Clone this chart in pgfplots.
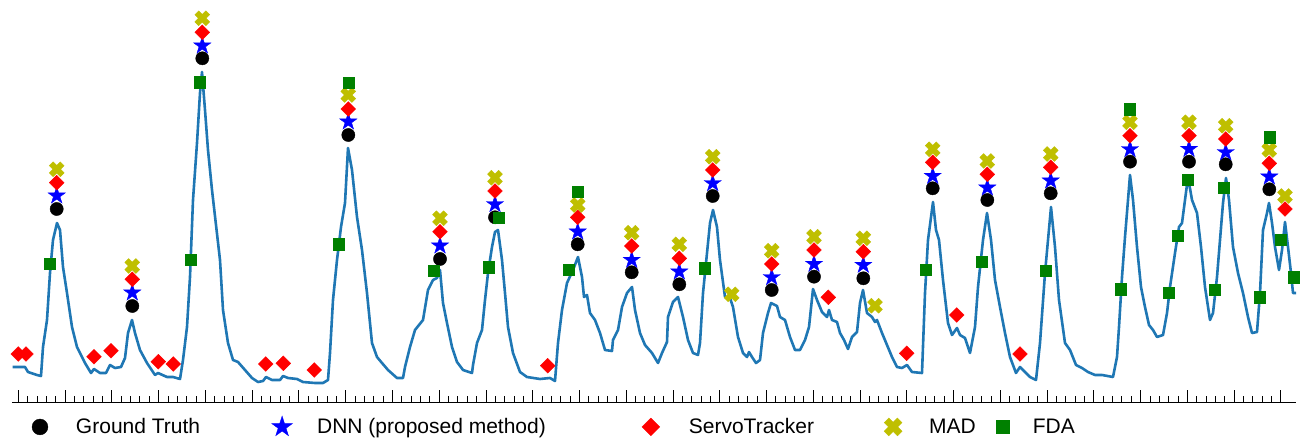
\documentclass[border=0pt]{standalone}
\usepackage{fontspec}
\setmainfont{Liberation Sans}
\usepackage{pgfplots}
\pgfplotsset{compat=1.18}
\definecolor{lineblue}{HTML}{1F77B4}
\definecolor{mplyellow}{RGB}{191,191,0}
\definecolor{mplgreen}{RGB}{0,128,0}

\pgfdeclareplotmark{fstar}{%
  \pgfpathmoveto{\pgfpointpolar{90}{\pgfplotmarksize}}%
  \pgfpathlineto{\pgfpointpolar{126}{0.382\pgfplotmarksize}}%
  \pgfpathlineto{\pgfpointpolar{162}{\pgfplotmarksize}}%
  \pgfpathlineto{\pgfpointpolar{198}{0.382\pgfplotmarksize}}%
  \pgfpathlineto{\pgfpointpolar{234}{\pgfplotmarksize}}%
  \pgfpathlineto{\pgfpointpolar{270}{0.382\pgfplotmarksize}}%
  \pgfpathlineto{\pgfpointpolar{306}{\pgfplotmarksize}}%
  \pgfpathlineto{\pgfpointpolar{342}{0.382\pgfplotmarksize}}%
  \pgfpathlineto{\pgfpointpolar{18}{\pgfplotmarksize}}%
  \pgfpathlineto{\pgfpointpolar{54}{0.382\pgfplotmarksize}}%
  \pgfpathclose
  \pgfusepathqfillstroke}
\pgfdeclareplotmark{fdiam}{%
  \pgfpathmoveto{\pgfqpoint{0pt}{\pgfplotmarksize}}%
  \pgfpathlineto{\pgfqpoint{\pgfplotmarksize}{0pt}}%
  \pgfpathlineto{\pgfqpoint{0pt}{-\pgfplotmarksize}}%
  \pgfpathlineto{\pgfqpoint{-\pgfplotmarksize}{0pt}}%
  \pgfpathclose
  \pgfusepathqfillstroke}
\pgfdeclareplotmark{fX}{%
  \pgftransformrotate{45}%
  \pgfpathmoveto{\pgfqpoint{0.35\pgfplotmarksize}{\pgfplotmarksize}}%
  \pgfpathlineto{\pgfqpoint{0.35\pgfplotmarksize}{0.35\pgfplotmarksize}}%
  \pgfpathlineto{\pgfqpoint{\pgfplotmarksize}{0.35\pgfplotmarksize}}%
  \pgfpathlineto{\pgfqpoint{\pgfplotmarksize}{-0.35\pgfplotmarksize}}%
  \pgfpathlineto{\pgfqpoint{0.35\pgfplotmarksize}{-0.35\pgfplotmarksize}}%
  \pgfpathlineto{\pgfqpoint{0.35\pgfplotmarksize}{-\pgfplotmarksize}}%
  \pgfpathlineto{\pgfqpoint{-0.35\pgfplotmarksize}{-\pgfplotmarksize}}%
  \pgfpathlineto{\pgfqpoint{-0.35\pgfplotmarksize}{-0.35\pgfplotmarksize}}%
  \pgfpathlineto{\pgfqpoint{-\pgfplotmarksize}{-0.35\pgfplotmarksize}}%
  \pgfpathlineto{\pgfqpoint{-\pgfplotmarksize}{0.35\pgfplotmarksize}}%
  \pgfpathlineto{\pgfqpoint{-0.35\pgfplotmarksize}{0.35\pgfplotmarksize}}%
  \pgfpathlineto{\pgfqpoint{-0.35\pgfplotmarksize}{\pgfplotmarksize}}%
  \pgfpathclose
  \pgfusepathqfillstroke}

\begin{document}
\begin{tikzpicture}
\begin{axis}[
  x=1pt, y=1pt,
  xmin=12, xmax=1296, ymin=-402, ymax=-4,
  axis x line*=bottom, axis y line=none,
  axis line style={black, line width=0.8pt},
  xtick={18.3,65.06,...,1285}, minor x tick num=4,
  xticklabels={},
  tick align=inside,
  major tick length=12pt, minor tick length=6pt,
  every tick/.style={black, line width=0.8pt},
  legend columns=5,
  legend cell align=left,
  legend image code/.code={\path[draw=none, fill=none] (-11pt,-4pt) rectangle (11pt,4pt); \draw[#1, every mark/.append style={scale=1.2}] plot coordinates {(0pt,0pt)};},
  legend style={draw=none, fill=none, inner sep=0pt, outer sep=0pt,
    at={(axis cs:29,-426)}, anchor=west,
    font=\fontsize{21}{25}\selectfont,
    nodes={inner sep=0pt},
    /tikz/column 1/.style={column sep=25pt},
    /tikz/column 2/.style={column sep=71pt},
    /tikz/column 3/.style={column sep=24pt},
    /tikz/column 4/.style={column sep=94pt},
    /tikz/column 5/.style={column sep=27pt},
    /tikz/column 6/.style={column sep=68pt},
    /tikz/column 7/.style={column sep=25pt},
    /tikz/column 8/.style={column sep=16pt},
    /tikz/column 9/.style={column sep=19pt}},
]
\addplot[forget plot, color=lineblue, line width=2.6pt, line join=round] coordinates {
(12.7,-367)(25,-367)(28,-372)(37,-375)(41,-376)(43,-347)(47,-320)(50,-273)(53,-240)(57,-223)(60,-230)(63,-267)(67,-293)(72,-327)(77,-347)(85,-363)(91,-373)(94,-369)(100,-373)(106,-373)(110,-365)(115,-368)(121,-367)(125,-358)(128,-333)(132,-320)(135,-333)(140,-350)(147,-363)(155,-375)(158,-373)(167,-377)(173,-377)(180,-379)(183,-360)(187,-327)(190,-277)(193,-200)(197,-143)(200,-93)(202,-72)(205,-110)(208,-150)(212,-190)(216,-225)(220,-260)(223,-310)(228,-343)(233,-360)(238,-362)
(245,-370)(252,-378)(258,-382)(263,-381)(266,-377)(272,-380)(280,-380)(283,-376)(288,-378)(297,-379)(303,-382)(315,-383)(323,-383)(328,-380)(330,-353)(333,-300)(337,-260)(341,-227)(345,-203)(348,-148)(352,-170)(357,-217)(362,-250)(367,-293)(372,-343)(377,-357)(382,-363)(388,-370)(397,-378)(403,-378)(405,-367)(410,-347)(415,-330)(423,-320)(425,-308)(428,-290)(433,-280)(437,-278)(440,-270)(443,-303)(447,-323)(452,-347)(457,-362)(463,-370)(472,-373)(473,-365)(477,-343)(482,-330)(485,-300)(488,-273)(492,-247)(495,-232)(498,-230)(502,-260)(505,-293)(508,-327)(513,-353)(520,-372)(527,-377)(540,-379)(550,-378)(555,-381)(558,-343)(562,-310)(567,-283)(573,-270)(578,-257)(582,-277)(584,-297)(587,-295)(590,-313)(595,-320)(600,-333)(605,-350)(612,-351)(613,-340)(618,-330)(622,-307)(627,-293)(632,-287)(635,-310)(640,-333)(645,-345)(652,-353)(658,-363)(662,-353)(667,-342)(668,-317)(673,-302)(678,-297)(683,-317)(688,-340)(693,-353)(698,-355)(700,-343)(703,-293)(707,-253)(710,-223)(713,-210)(717,-227)(720,-260)(725,-297)(730,-298)(733,-307)(738,-337)(743,-353)(747,-357)(749,-352)(752,-357)(756,-363)(760,-360)(763,-333)(768,-313)(771,-303)(777,-306)(780,-317)(785,-320)(790,-337)(795,-350)(800,-350)(805,-340)(809,-327)(813,-289)(817,-300)(822,-312)(827,-317)(829,-310)(832,-320)(837,-322)(840,-333)(844,-340)(848,-349)(852,-337)(857,-332)(860,-303)(863,-290)(867,-313)(872,-317)(875,-322)(877,-320)(882,-333)(887,-345)(892,-357)(897,-367)(902,-368)(907,-365)(912,-372)(922,-373)(925,-293)(928,-240)(933,-202)(936,-230)(939,-240)(943,-280)(948,-323)(952,-335)(957,-328)(960,-335)(965,-338)(970,-353)(975,-327)(978,-287)(983,-240)(987,-213)(991,-240)(995,-280)(1000,-307)(1005,-333)(1010,-357)(1016,-373)(1020,-367)(1025,-372)(1030,-377)(1036,-380)(1040,-343)(1045,-273)(1051,-207)(1055,-247)(1059,-300)(1065,-343)(1070,-350)(1076,-365)(1082,-368)(1088,-372)(1095,-375)(1102,-375)(1113,-377)(1117,-357)(1119,-327)(1122,-277)(1125,-237)(1128,-200)(1130,-175)(1133,-200)(1137,-247)(1141,-287)(1145,-307)(1149,-325)(1153,-330)(1157,-337)(1163,-335)(1167,-313)(1170,-287)(1175,-253)(1179,-227)(1182,-223)(1185,-200)(1188,-177)(1192,-200)(1197,-213)(1201,-247)(1205,-287)(1210,-320)(1213,-313)(1217,-277)(1220,-240)(1223,-203)(1226,-178)(1229,-200)(1233,-247)(1238,-273)(1243,-293)(1248,-317)(1252,-333)(1257,-332)(1260,-293)(1263,-230)(1267,-213)(1269,-203)(1272,-223)(1275,-247)(1279,-270)(1282,-250)(1285,-222)(1288,-247)(1291,-273)(1293,-293)(1297,-293)
};
% Ground Truth
\addplot[only marks, mark=*, mark size=6.6pt, mark options={fill=black, draw=black, line width=0.4pt}] coordinates {
(56.7,-209)(132.3,-306)(202.3,-58.3)(348.3,-135)(440,-259)(495,-217.3)(577.7,-244.3)(631.7,-272.3)(679.3,-284.3)(712.7,-196)(771.7,-290)(814,-276.7)(863.3,-278.3)(932.7,-188.3)(987.3,-200)(1050.7,-193.3)(1130,-161.7)(1189,-161.7)(1225.7,-164.3)(1269.3,-189.3)
};
\addlegendentry{Ground Truth}
% DNN
\addplot[only marks, mark=fstar, mark size=9pt, mark options={fill=blue, draw=blue, line width=0.4pt}] coordinates {
(56.7,-195.7)(132.3,-292.7)(202.3,-45.7)(348.3,-121.7)(440,-245.7)(495,-204.3)(577.7,-231.7)(631.7,-260)(679.3,-271.7)(712.7,-183.3)(771.7,-277.3)(814,-264)(863.3,-265)(932.7,-176)(987.3,-187.7)(1050.7,-180.7)(1130,-149.3)(1189,-149)(1225.7,-152.3)(1269.3,-176.7)
};
\addlegendentry{DNN (proposed method)}
% ServoTracker
\addplot[only marks, mark=fdiam, mark size=7.4pt, mark options={fill=red, draw=red, line width=0.4pt}] coordinates {
(56.7,-182.7)(132.3,-279.3)(202.3,-32.3)(348.3,-109)(440,-231.7)(495,-191)(577.7,-217.3)(631.7,-246)(679.3,-258.3)(712.7,-170)(771.7,-264)(814,-250)(863.3,-251.7)(932.7,-162.3)(987.3,-174.3)(1050.7,-167.3)(1130,-135.7)(1189,-135.7)(1225.7,-139)(1269.3,-163.3)
(18.3,-354)(26,-354)(94,-356.7)(111,-350.7)(158.3,-361.7)(173.3,-364)(265.7,-364)(283.3,-363.3)(314.3,-370)(547.7,-365.7)(828.3,-297.3)(906.7,-353.3)(956.7,-315)(1020,-354)(1285,-209)
};
\addlegendentry{ServoTracker}
% MAD
\addplot[only marks, mark=fX, mark size=7.8pt, mark options={fill=mplyellow, draw=mplyellow, line width=0.4pt}] coordinates {
(56.7,-169.3)(132.3,-266)(202.3,-18.3)(348.3,-95)(440,-218.3)(495,-177.7)(577.7,-205)(631.7,-232.7)(679.3,-244.3)(712.7,-156.7)(771.7,-250.7)(814,-236.7)(863.3,-238.3)(932.7,-149.3)(987.3,-161)(1050.7,-154)(1130,-122.3)(1189,-122.3)(1225.7,-125.7)(1269.3,-150)
(731.7,-294.3)(875,-305.7)(1285,-196)
};
\addlegendentry{MAD}
% FDA
\addplot[only marks, mark=square*, mark size=5.6pt, mark options={fill=mplgreen, draw=mplgreen, line width=0.4pt}] coordinates {
(50,-264)(190.7,-260)(200,-82.3)(338.3,-244.3)(348.3,-82.7)(433.3,-270.7)(488.3,-267.3)(498.3,-217.7)(568.3,-270)(577.7,-191.7)(704.3,-268.3)(926,-270)(981.3,-261.7)(1045.7,-271)(1121,-289.3)(1130,-109.3)(1168.3,-292.7)(1177.7,-236)(1187.3,-180)(1214.3,-290)(1224,-187.7)(1260,-297.3)(1269.3,-137.3)(1280.7,-240)(1293.3,-277.3)
};
\addlegendentry{FDA}
\coordinate (o) at (axis cs:0,0);
\end{axis}
\pgfresetboundingbox
\path[use as bounding box] (o) rectangle ++(1304pt,-439pt);
\end{tikzpicture}
\end{document}
